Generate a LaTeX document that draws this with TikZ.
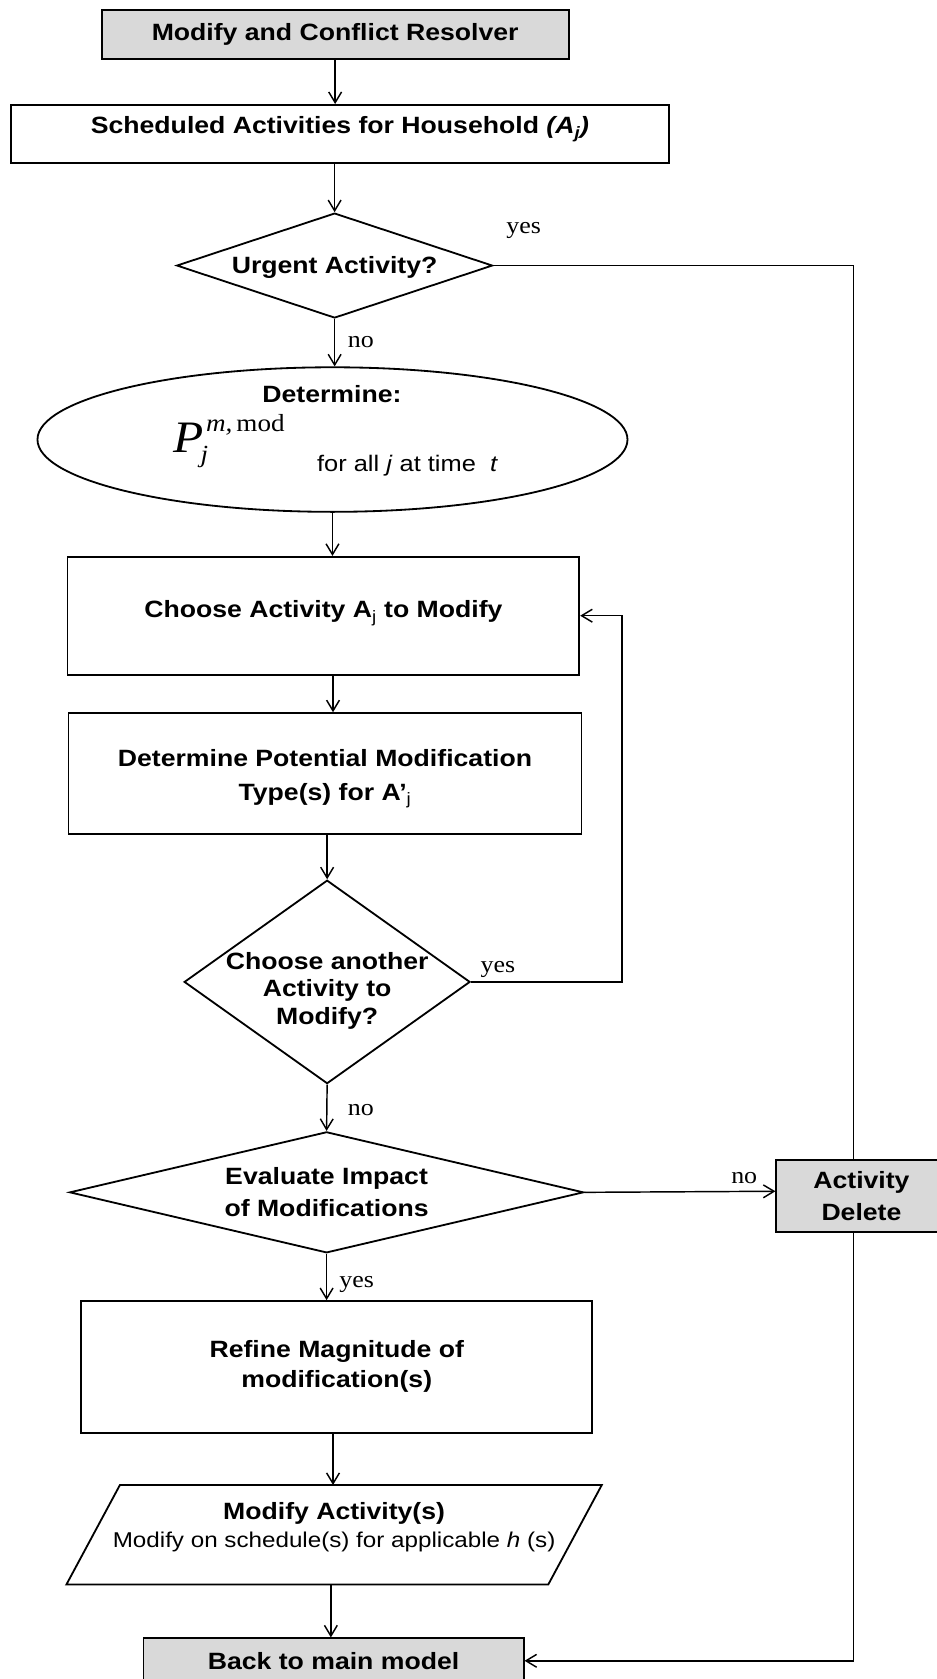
\documentclass[tikz,border=0pt]{standalone}
\usepackage{fontspec}
\setmainfont{Liberation Sans}[FakeStretch=1.13]
\newfontfamily\serifl{Liberation Serif}[FakeStretch=1.1]
\usetikzlibrary{arrows.meta,shapes.geometric}
\definecolor{boxgray}{HTML}{D9D9D9}
\newcommand{\zbox}[2][0pt]{\makebox[0pt]{\raisebox{\dimexpr-7pt-#1\relax}[0pt][0pt]{\begin{tabular}{@{}c@{}}#2\end{tabular}}}}
\begin{document}
\begin{tikzpicture}[x=1pt,y=-1pt,
  every node/.style={font=\fontsize{22}{28}\selectfont\bfseries},
  box/.style={draw, line width=1.7pt, inner sep=0pt, align=center},
  gbox/.style={box, fill=boxgray},
  dia/.style={draw, diamond, line width=1.7pt, inner sep=0pt},
  arr/.style={line width=1.35pt, -{Straight Barb[length=10pt,width=12pt,line width=1.35pt]}},
  ln/.style={line width=1.35pt},
  lab/.style={font=\serifl\fontsize{22}{24}\selectfont, inner sep=0pt}]
\fill[white] (0,0) rectangle (875,1568);
\useasboundingbox (0,0) rectangle (875,1568);

\node[gbox, minimum width=436pt, minimum height=46pt] (top) at (313,32) {Modify and Conflict Resolver};
\node[box, minimum width=615pt, minimum height=54pt, text height=16pt, text depth=16pt] (sched) at (317.5,125) {Scheduled Activities for Household \textit{(A\textsubscript{j})}};
\node[dia, minimum width=295pt, minimum height=98pt] (urg) at (312.5,248) {\zbox{Urgent Activity?}};
\node[ellipse, draw, line width=1.7pt, minimum width=551pt, minimum height=135pt, inner sep=0pt] (ell) at (310.5,410.5) {};
\node (detl) at (310,368) {Determine:};
\node[anchor=base west, inner sep=0pt, font=\serifl] (pf) at (162,423) {\fontsize{42}{42}\selectfont\itshape P\kern-3pt\fontsize{23}{23}\selectfont\rlap{\raisebox{-9pt}{j}}\kern5pt\raisebox{20pt}{m,\upshape\,mod}};
\node[anchor=base west, inner sep=0pt, font=\fontsize{21}{24}\selectfont\mdseries] (fa) at (296,440.5) {for all \textit{j} at time \ \textit{t}};

\node[box, minimum width=478pt, minimum height=110pt, text height=16pt, text depth=12pt] (cho) at (302,575) {Choose Activity A\textsubscript{\mdseries j} to Modify};
\node[box, minimum width=479pt, minimum height=113pt, text height=54pt, text depth=4pt] (det) at (303.5,722.5) {Determine Potential Modification\\[4pt]Type(s) for A’\textsubscript{\mdseries j}};
\node[dia, minimum width=267pt, minimum height=190pt, font=\fontsize{22}{26}\selectfont\bfseries] (dia2) at (305.5,917) {\zbox[7pt]{Choose another\\Activity to\\Modify?}};
\node[dia, minimum width=480pt, minimum height=113pt, font=\fontsize{22}{30}\selectfont\bfseries] (dia3) at (305,1113.5) {\zbox{Evaluate Impact\\of Modifications}};
\node[gbox, minimum width=159pt, minimum height=67pt, font=\fontsize{22}{30}\selectfont\bfseries] (del) at (804.5,1117) {Activity\\Delete};
\node[box, minimum width=477pt, minimum height=123pt] (ref) at (314.5,1276.5) {Refine Magnitude of\\modification(s)};
\node[align=center, inner sep=0pt, minimum height=93pt, text depth=19pt, font=\fontsize{22}{26.5}\selectfont\bfseries] (mod) at (312,1433.5) {Modify Activity(s)\\{\mdseries\fontsize{20}{26.5}\selectfont Modify on schedule(s) for applicable \textit{h} (s)}};
\draw[line width=1.7pt] (mod.north) ++(-200,0) -- ++(450,0) -- ++(-50,93) -- ++(-450,0) -- cycle;
\node[gbox, minimum width=355pt, minimum height=42pt] (back) at (311.5,1551) {Back to main model};

\draw[arr] (top.south) -- (top.south |- sched.north);
\draw[arr] (urg.north |- sched.south) -- (urg.north);
\draw[arr] (urg.south) -- (urg.south |- ell.north);
\draw[arr] (ell.south) -- (ell.south |- cho.north);
\draw[arr] ([xshift=9pt]cho.south) -- ([xshift=9pt]cho.south |- det.north);
\draw[arr] (dia2.north |- det.south) -- (dia2.north);
\draw[arr] (dia2.south) -- (dia3.north);
\draw[arr] (dia3.south) -- (dia3.south |- ref.north);
\draw[arr] ([xshift=-3.5pt]ref.south) -- ([xshift=-3.5pt]ref.south |- mod.north);
\draw[arr] ([xshift=-3pt]mod.south) -- ([xshift=-3pt]mod.south |- back.north);
\draw[ln] (urg.east) -| ([xshift=-7.5pt]del.north);
\draw[arr] ([xshift=-7.5pt]del.south) |- (back.east);
\draw[arr] (dia2.east) -- ++(141,0) |- (cho.east);
\draw[arr] (dia3.east) -- ([yshift=4.5pt]del.west);

\node[lab] (l1) at (489,215) {yes};
\node[lab] (l2) at (337,319) {no};
\node[lab] (l3) at (465,905) {yes};
\node[lab] (l4) at (337,1037) {no};
\node[lab] (l5) at (695,1100) {no};
\node[lab] (l6) at (333,1200) {yes};
\end{tikzpicture}
\end{document}
